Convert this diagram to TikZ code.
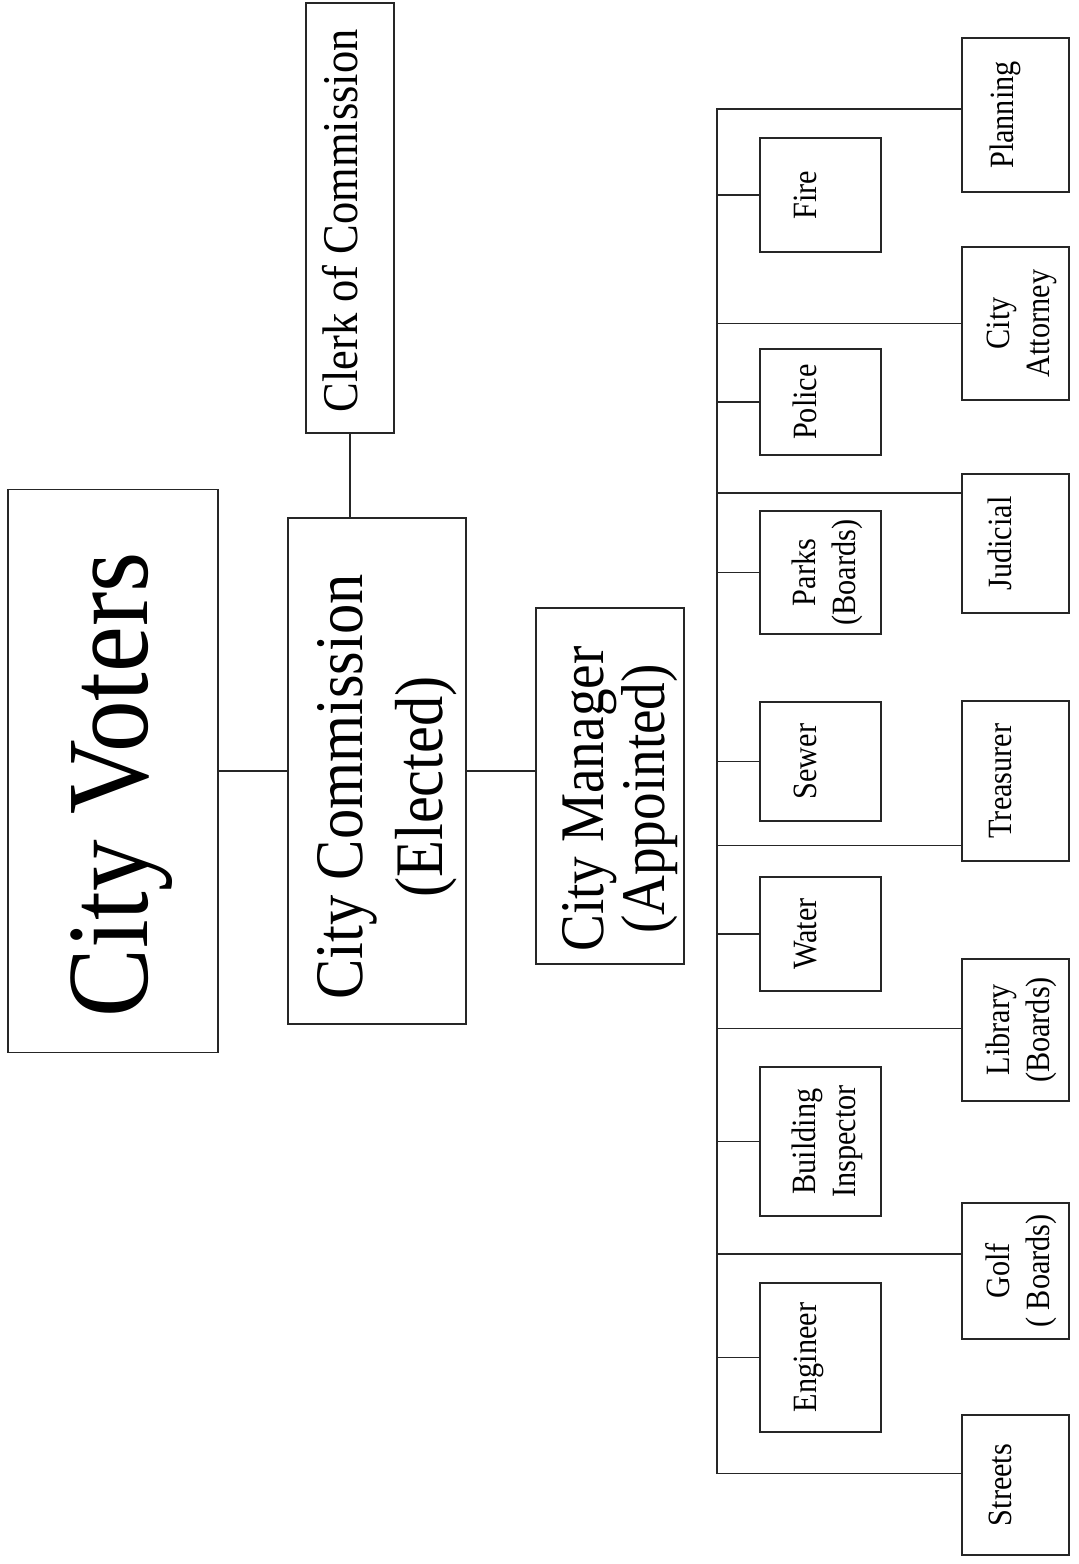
\documentclass[tikz,border=0pt]{standalone}
\usepackage{fontspec}
\usepackage{graphicx}
\newfontfamily\chartfont[FakeStretch=0.89]{Liberation Serif}
\usetikzlibrary{calc}
% rotated label; [right shift][down shift] in page terms
\NewDocumentCommand{\vlabel}{O{0pt} O{0pt} m}{\rotatebox{90}{\raisebox{-#1}[\height][\depth]{\kern-#2\begin{tabular}{@{}c@{}}#3\end{tabular}\kern#2}}}

\begin{document}
\begin{tikzpicture}[x=1pt, y=-1pt,
  box/.style={draw=black!85, line width=1.6pt, inner sep=0pt, font=\chartfont},
  dept/.style={box, font=\chartfont\fontsize{34}{40}\selectfont},
  link/.style={draw=black!85, line width=1.5pt}]
\useasboundingbox (0,0) rectangle (1079,1564);

% voters, commission, clerk, manager
\node[box, minimum width=210, minimum height=563, font=\chartfont\fontsize{116}{120}\selectfont]
  (voters) at (113,771) {\vlabel[10pt][14pt]{City Voters}};
\node[box, minimum width=178, minimum height=506, font=\chartfont\fontsize{68}{80}\selectfont]
  (commission) at (377,771) {\vlabel[9pt][16pt]{City Commission\\(Elected)}};
\node[box, minimum width=88, minimum height=430, font=\chartfont\fontsize{50}{60}\selectfont]
  (clerk) at (350,218) {\vlabel[-5pt][3pt]{Clerk of Commission}};
\node[box, minimum width=148, minimum height=356, font=\chartfont\fontsize{62}{61}\selectfont]
  (manager) at (610,786) {\vlabel[12pt][13pt]{City Manager\\(Appointed)}};

\draw[link] (voters.east) -- (commission.west);
\draw[link] (clerk.south) -- (clerk.south |- commission.north);
\draw[link] (commission.east) -- (commission.east -| manager.west);

% the bus
\coordinate (bus) at (717,0);

% departments, inner column
\foreach \nm/\yc/\hh/\sh/\txt in {fire/195/114/-12pt/Fire, police/402/106/-12pt/Police,
    parks/572.5/123/7pt/{Parks\\(Boards)}, sewer/761.5/119/-12pt/Sewer, water/934/114/-12pt/Water,
    building/1141.5/149/7pt/{Building\\Inspector}, engineer/1357.5/149/-12pt/Engineer}{
  \node[dept, minimum width=121, minimum height=\hh] (\nm) at (820.5,\yc) {\vlabel[\sh]{\txt}};
  \draw[link] (\nm.west) -- (\nm.west -| bus);
}

% departments, outer column
\foreach \nm/\yc/\hh/\f/\sh/\txt in {planning/115/154/0.46/-10pt/Planning,
    attorney/323.5/153/0.5/6pt/{City\\Attorney}, judicial/543.5/139/0.14/-12pt/Judicial,
    treasurer/781/160/0.9/-12pt/Treasurer, library/1030/142/0.49/6pt/{Library\\(Boards)},
    golf/1271/136/0.375/6pt/{Golf\\( Boards)}, streets/1485/140/0.42/-12pt/Streets}{
  \node[dept, minimum width=107, minimum height=\hh] (\nm) at (1015.5,\yc) {\vlabel[\sh]{\txt}};
  \coordinate (\nm-in) at ($(\nm.north west)!\f!(\nm.south west)$);
  \draw[link] (\nm-in) -- (\nm-in -| bus);
}
\draw[link] (planning-in) -- (planning-in -| bus) -- (streets-in -| bus) -- (streets-in);
\end{tikzpicture}
\end{document}
